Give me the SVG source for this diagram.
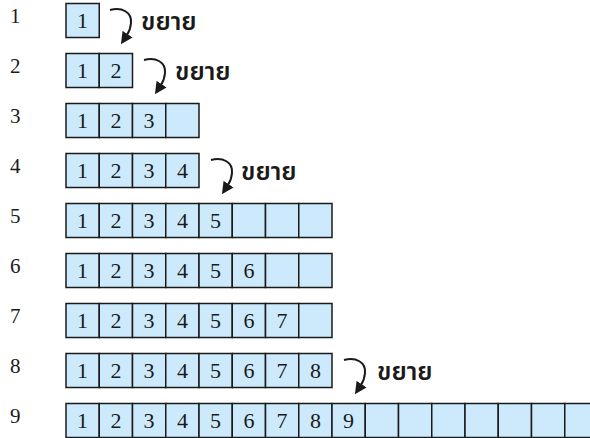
<svg xmlns="http://www.w3.org/2000/svg" xmlns:xlink="http://www.w3.org/1999/xlink" width="590" height="438" viewBox="0 0 590 438">
<style>
.cell{fill:#cdeafc;stroke:#1a1a1a;stroke-width:1.5}
.num{font-family:"Liberation Serif","Times New Roman",serif;font-size:22px;fill:#1a1a1a;text-anchor:middle}
.row{font-family:"Liberation Serif","Times New Roman",serif;font-size:21px;fill:#1a1a1a}
.lbl{font-family:"Noto Sans Thai","Noto Sans","Tahoma",sans-serif;font-size:25px;font-weight:600;fill:#1a1a1a}
.arr{fill:none;stroke:#1a1a1a;stroke-width:2}
</style>
<defs>
<rect id="c" class="cell" width="33.25" height="34"/>
<marker id="ah" viewBox="0 0 12 12" refX="1" refY="6" markerWidth="12" markerHeight="12" markerUnits="userSpaceOnUse" orient="auto">
<path d="M0,0 L12,6 L0,12 z" fill="#1a1a1a"/>
</marker>
<path id="a" class="arr" d="M0,0 C12,-3 22,2 21,13 C20.5,19 19,22 17,25" marker-end="url(#ah)"/>
</defs>
<g id="row-labels">
<text class="row" x="10" y="23">1</text>
<text class="row" x="10" y="73">2</text>
<text class="row" x="10" y="123">3</text>
<text class="row" x="10" y="173">4</text>
<text class="row" x="10" y="223">5</text>
<text class="row" x="10" y="273">6</text>
<text class="row" x="10" y="323">7</text>
<text class="row" x="10" y="373">8</text>
<text class="row" x="10" y="423">9</text>
</g>
<g id="array1">
<use href="#c" x="66" y="3.5"/>
<text class="num" x="82.6" y="27.5">1</text>
</g>
<g id="array2">
<use href="#c" x="66" y="53.5"/><use href="#c" x="99.25" y="53.5"/>
<text class="num" x="82.6" y="77.5">1</text><text class="num" x="115.9" y="77.5">2</text>
</g>
<g id="array3">
<use href="#c" x="66" y="103.5"/><use href="#c" x="99.25" y="103.5"/><use href="#c" x="132.5" y="103.5"/><use href="#c" x="165.75" y="103.5"/>
<text class="num" x="82.6" y="127.5">1</text><text class="num" x="115.9" y="127.5">2</text><text class="num" x="149.1" y="127.5">3</text>
</g>
<g id="array4">
<use href="#c" x="66" y="153.5"/><use href="#c" x="99.25" y="153.5"/><use href="#c" x="132.5" y="153.5"/><use href="#c" x="165.75" y="153.5"/>
<text class="num" x="82.6" y="177.5">1</text><text class="num" x="115.9" y="177.5">2</text><text class="num" x="149.1" y="177.5">3</text><text class="num" x="182.4" y="177.5">4</text>
</g>
<g id="array5">
<use href="#c" x="66" y="203.5"/><use href="#c" x="99.25" y="203.5"/><use href="#c" x="132.5" y="203.5"/><use href="#c" x="165.75" y="203.5"/><use href="#c" x="199" y="203.5"/><use href="#c" x="232.25" y="203.5"/><use href="#c" x="265.5" y="203.5"/><use href="#c" x="298.75" y="203.5"/>
<text class="num" x="82.6" y="227.5">1</text><text class="num" x="115.9" y="227.5">2</text><text class="num" x="149.1" y="227.5">3</text><text class="num" x="182.4" y="227.5">4</text><text class="num" x="215.6" y="227.5">5</text>
</g>
<g id="array6">
<use href="#c" x="66" y="253.5"/><use href="#c" x="99.25" y="253.5"/><use href="#c" x="132.5" y="253.5"/><use href="#c" x="165.75" y="253.5"/><use href="#c" x="199" y="253.5"/><use href="#c" x="232.25" y="253.5"/><use href="#c" x="265.5" y="253.5"/><use href="#c" x="298.75" y="253.5"/>
<text class="num" x="82.6" y="277.5">1</text><text class="num" x="115.9" y="277.5">2</text><text class="num" x="149.1" y="277.5">3</text><text class="num" x="182.4" y="277.5">4</text><text class="num" x="215.6" y="277.5">5</text><text class="num" x="248.9" y="277.5">6</text>
</g>
<g id="array7">
<use href="#c" x="66" y="303.5"/><use href="#c" x="99.25" y="303.5"/><use href="#c" x="132.5" y="303.5"/><use href="#c" x="165.75" y="303.5"/><use href="#c" x="199" y="303.5"/><use href="#c" x="232.25" y="303.5"/><use href="#c" x="265.5" y="303.5"/><use href="#c" x="298.75" y="303.5"/>
<text class="num" x="82.6" y="327.5">1</text><text class="num" x="115.9" y="327.5">2</text><text class="num" x="149.1" y="327.5">3</text><text class="num" x="182.4" y="327.5">4</text><text class="num" x="215.6" y="327.5">5</text><text class="num" x="248.9" y="327.5">6</text><text class="num" x="282.1" y="327.5">7</text>
</g>
<g id="array8">
<use href="#c" x="66" y="353.5"/><use href="#c" x="99.25" y="353.5"/><use href="#c" x="132.5" y="353.5"/><use href="#c" x="165.75" y="353.5"/><use href="#c" x="199" y="353.5"/><use href="#c" x="232.25" y="353.5"/><use href="#c" x="265.5" y="353.5"/><use href="#c" x="298.75" y="353.5"/>
<text class="num" x="82.6" y="377.5">1</text><text class="num" x="115.9" y="377.5">2</text><text class="num" x="149.1" y="377.5">3</text><text class="num" x="182.4" y="377.5">4</text><text class="num" x="215.6" y="377.5">5</text><text class="num" x="248.9" y="377.5">6</text><text class="num" x="282.1" y="377.5">7</text><text class="num" x="315.4" y="377.5">8</text>
</g>
<g id="array9">
<use href="#c" x="66" y="403.5"/><use href="#c" x="99.25" y="403.5"/><use href="#c" x="132.5" y="403.5"/><use href="#c" x="165.75" y="403.5"/><use href="#c" x="199" y="403.5"/><use href="#c" x="232.25" y="403.5"/><use href="#c" x="265.5" y="403.5"/><use href="#c" x="298.75" y="403.5"/><use href="#c" x="332" y="403.5"/><use href="#c" x="365.25" y="403.5"/><use href="#c" x="398.5" y="403.5"/><use href="#c" x="431.75" y="403.5"/><use href="#c" x="465" y="403.5"/><use href="#c" x="498.25" y="403.5"/><use href="#c" x="531.5" y="403.5"/><use href="#c" x="564.75" y="403.5"/>
<text class="num" x="82.6" y="427.5">1</text><text class="num" x="115.9" y="427.5">2</text><text class="num" x="149.1" y="427.5">3</text><text class="num" x="182.4" y="427.5">4</text><text class="num" x="215.6" y="427.5">5</text><text class="num" x="248.9" y="427.5">6</text><text class="num" x="282.1" y="427.5">7</text><text class="num" x="315.4" y="427.5">8</text><text class="num" x="348.6" y="427.5">9</text>
</g>
<g id="connectors">
<use href="#a" x="110" y="10"/>
<use href="#a" x="144" y="60"/>
<use href="#a" x="211" y="160"/>
<use href="#a" x="344" y="360"/>
<text class="lbl" x="141" y="30">ขยาย</text>
<text class="lbl" x="175" y="80">ขยาย</text>
<text class="lbl" x="241" y="180">ขยาย</text>
<text class="lbl" x="377" y="380">ขยาย</text>
</g>
</svg>
